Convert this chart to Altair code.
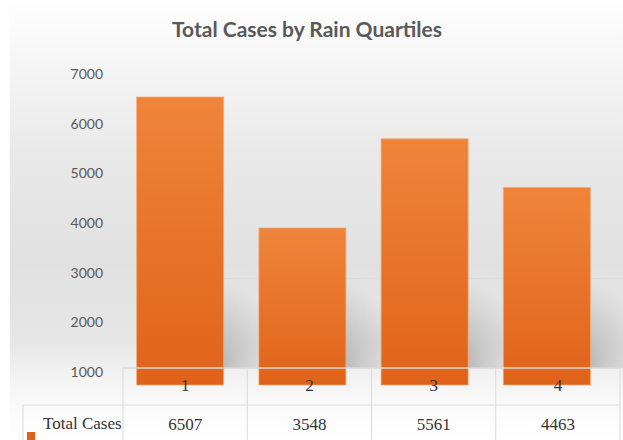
import altair as alt
import pandas as pd

# Quartile categories and total cases per quartile
quartiles = ["1", "2", "3", "4"]
total_cases = [6507, 3548, 5561, 4463]
# Value labels shown on the left-hand scale
scale_labels = [1000, 2000, 3000, 4000, 5000, 6000, 7000]
row_label = "Total Cases"
chart_title = "Total Cases by Rain Quartiles"

df = pd.DataFrame({"quartile": quartiles, "cases": total_cases})
ticks_df = pd.DataFrame({"v": scale_labels})
one = pd.DataFrame({"k": [0]})

W, H = 497, 380
ORANGE_TOP = "#EF853A"
ORANGE_BOT = "#E0621A"
GRID = "#d9d9d9"

# band scale used by the data table
table_scale = alt.Scale(domain=quartiles, range=[0, W], paddingInner=0, paddingOuter=0)
x_table = alt.X("quartile:N", scale=table_scale, axis=None)
# band scale used by the bars (slightly tighter, perspective look)
x_bars = alt.Scale(domain=quartiles, range=[-4, 485], paddingInner=0, paddingOuter=0)
y_bars = alt.Scale(domain=[-1243, 7343], nice=False, zero=False)
y_ticks = alt.Scale(domain=[-349, 7302], nice=False, zero=False)

background = alt.Chart(one).mark_rect(
    fill=alt.Gradient(
        gradient="linear", x1=0, y1=0, x2=0, y2=1,
        stops=[
            alt.GradientStop(offset=0.0, color="#ffffff"),
            alt.GradientStop(offset=0.12, color="#f7f7f7"),
            alt.GradientStop(offset=0.35, color="#e9e9e9"),
            alt.GradientStop(offset=0.6, color="#e1e1e1"),
            alt.GradientStop(offset=0.78, color="#e7e7e7"),
            alt.GradientStop(offset=0.86, color="#f3f3f3"),
            alt.GradientStop(offset=0.93, color="#fbfbfb"),
            alt.GradientStop(offset=1.0, color="#ffffff"),
        ],
    )
).encode(x=alt.value(-113), x2=alt.value(W + 3), y=alt.value(-60), y2=alt.value(H))

# soft cast shadow to the right of each bar, fading away from its foot
shadows = alt.Chart(df).mark_bar(
    width=44, xOffset=64,
    fill=alt.Gradient(
        gradient="radial", x1=0, y1=1, r1=0, x2=0, y2=1, r2=1,
        stops=[
            alt.GradientStop(offset=0.0, color="rgba(100,100,100,0.55)"),
            alt.GradientStop(offset=0.45, color="rgba(110,110,110,0.28)"),
            alt.GradientStop(offset=1.0, color="rgba(120,120,120,0)"),
        ],
    ),
).encode(
    x=alt.X("quartile:N", scale=x_bars, axis=None),
    y=alt.datum(2400, scale=y_bars),
    y2=alt.datum(380),
)

bars = alt.Chart(df).mark_bar(
    width=87,
    stroke="#f5a870", strokeWidth=1, strokeOpacity=0.7,
    fill=alt.Gradient(
        gradient="linear", x1=0, y1=0, x2=0, y2=1,
        stops=[
            alt.GradientStop(offset=0.0, color=ORANGE_TOP),
            alt.GradientStop(offset=1.0, color=ORANGE_BOT),
        ],
    ),
).encode(
    x=alt.X("quartile:N", scale=x_bars, axis=None),
    y=alt.Y("cases:Q", scale=y_bars, axis=None),
    y2=alt.datum(0),
)

tick_text = alt.Chart(ticks_df).mark_text(
    align="right", baseline="middle", font="Lato", fontSize=14, color="#595959"
).encode(
    x=alt.value(-20),
    y=alt.Y("v:Q", scale=y_ticks, axis=None),
    text=alt.Text("v:Q", format="d"),
)

title_text = alt.Chart(one).mark_text(
    font="Lato", fontSize=21, fontWeight="bold", color="#595959",
    align="center", baseline="middle",
).encode(x=alt.value(184), y=alt.value(-29), text=alt.value(chart_title))

# data table grid lines
table_top = alt.Chart(one).mark_rule(color=GRID, strokeWidth=2, opacity=0.75).encode(
    x=alt.value(0), x2=alt.value(W), y=alt.value(308))
table_mid = alt.Chart(one).mark_rule(color=GRID, strokeWidth=1).encode(
    x=alt.value(-100), x2=alt.value(W), y=alt.value(345))
table_left = alt.Chart(one).mark_rule(color=GRID, strokeWidth=1).encode(
    x=alt.value(-100), y=alt.value(345), y2=alt.value(H))
table_cols = alt.Chart(df).mark_rule(color=GRID, strokeWidth=1).encode(
    x=alt.X("quartile:N", scale=table_scale, bandPosition=0, axis=None),
    y=alt.value(308), y2=alt.value(H))
table_end = alt.Chart(one).mark_rule(color=GRID, strokeWidth=1).encode(
    x=alt.value(W), y=alt.value(308), y2=alt.value(H))

cat_text = alt.Chart(df).mark_text(
    font="Liberation Serif", fontSize=17, color="#333333", baseline="middle"
).encode(x=x_table, y=alt.value(326), text="quartile:N")

val_text = alt.Chart(df).mark_text(
    font="Liberation Serif", fontSize=17, color="#333333", baseline="middle"
).encode(x=x_table, y=alt.value(365), text=alt.Text("cases:Q", format="d"))

row_text = alt.Chart(one).mark_text(
    font="Liberation Serif", fontSize=17, color="#333333", baseline="middle", align="left"
).encode(x=alt.value(-80), y=alt.value(364), text=alt.value(row_label))

legend_key = alt.Chart(one).mark_rect(color=ORANGE_BOT).encode(
    x=alt.value(-96), x2=alt.value(-88), y=alt.value(372), y2=alt.value(H))

chart = alt.layer(
    background, shadows, bars, tick_text, title_text,
    table_top, table_mid, table_left, table_cols, table_end,
    cat_text, val_text, row_text, legend_key,
).resolve_scale(
    x="independent", y="independent"
).properties(
    width=W, height=H,
    padding={"left": 123, "top": 60, "right": 3, "bottom": 0},
    autosize=alt.AutoSizeParams(type="none"),
).configure_view(stroke=None).configure(background="#ffffff")

chart.save("out.html", embed_options={"renderer": "svg", "actions": False})
